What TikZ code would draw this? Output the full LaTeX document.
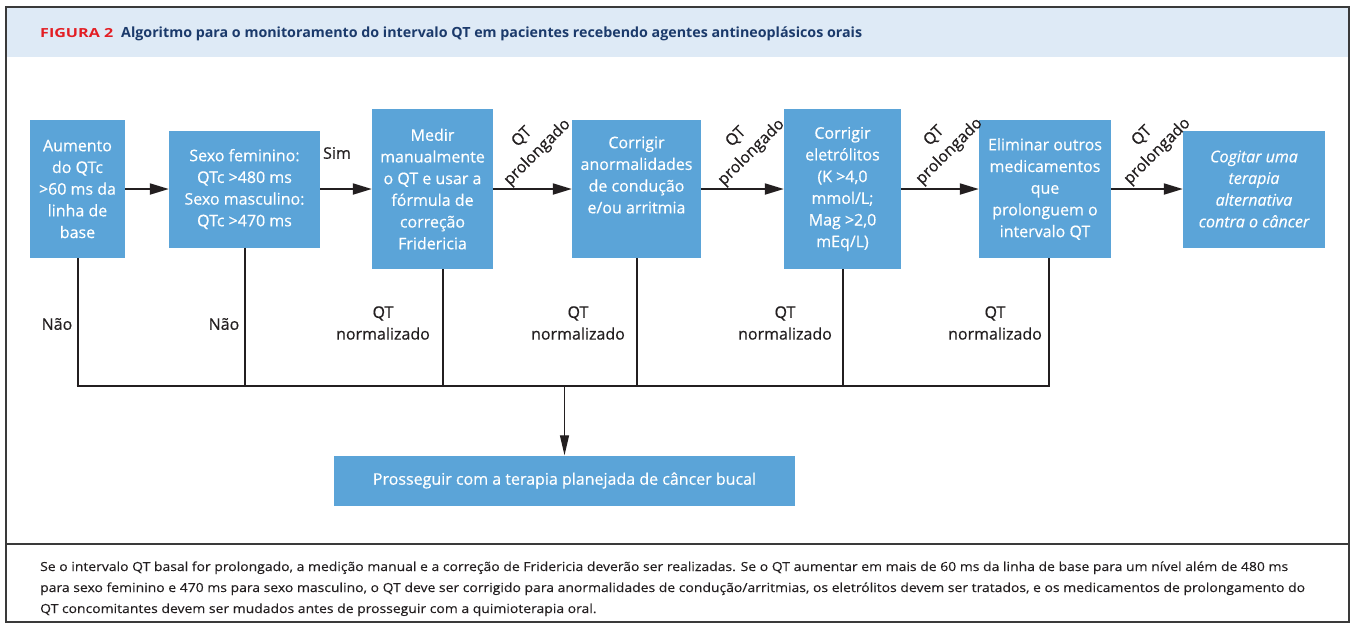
\documentclass[tikz,border=0pt]{standalone}
\usepackage{fontspec}
\setmainfont{Open Sans}
\newfontfamily\medfont{Open Sans}[FakeBold=0.5]
\newfontfamily\footfont{Open Sans}[FakeBold=0.15]
\usetikzlibrary{arrows.meta,calc}
\definecolor{boxblue}{HTML}{5BA4D8}
\definecolor{headbg}{HTML}{DEEAF6}
\definecolor{figred}{HTML}{E31E24}
\definecolor{navy}{HTML}{1B3A6B}
\definecolor{linec}{HTML}{231F20}
\definecolor{framec}{HTML}{3A3A3A}
\newsavebox\footbox
\AtBeginDocument{%
\sbox\footbox{\footfont\fontsize{12.5}{15}\selectfont Se o intervalo QT basal for prolongado, a medição manual e a correção de Fridericia deverão ser realizadas. Se o QT aumentar em mais de 60 ms da linha de base para um nível além de 480 ms}%
\pgfmathsetmacro\fsc{1248/\the\wd\footbox}}
\begin{document}
\begin{tikzpicture}[x=1pt,y=-1pt]
\tikzset{
 blk/.style={fill=boxblue, text=white, font=\medfont\fontsize{16}{21.7}\selectfont, align=center, inner sep=0pt},
 lbl/.style={font=\medfont\fontsize{16}{21.7}\selectfont, align=center, text=linec, inner sep=0pt},
 flow/.style={line width=2pt, draw=linec, -{Triangle[length=19pt,width=11pt]}},
 drop/.style={line width=2pt, draw=linec},
 foot/.style={anchor=base west, inner sep=0pt, text=linec, font=\footfont\fontsize{12.5}{15}\selectfont},
}
\useasboundingbox (0,0) rectangle (1355,625);
% frame and header
\fill[white] (0,0) rectangle (1355,625);
\fill[headbg] (6,7) rectangle (1349,57);
\draw[framec, line width=1.5pt] (6,7) rectangle (1349,622);
\draw[framec, line width=1.5pt] (6,544) -- (1349,544);
\node[anchor=base west, inner sep=0pt, text=figred, font=\bfseries\fontsize{12.5}{14}\selectfont] (fig) at (40,37.5) {\resizebox{73pt}{\height}{FIGURA 2}};
\node[anchor=base west, inner sep=0pt, text=navy, font=\bfseries\fontsize{14}{16}\selectfont] (title) at (121,37.5) {\resizebox{741pt}{\height}{Algoritmo para o monitoramento do intervalo QT em pacientes recebendo agentes antineoplásicos orais}};
% boxes
\node[blk, minimum width=95pt, minimum height=138pt] (b1) at (77.5,189) {Aumento\\do QTc\\>60 ms da\\linha de\\base};
\node[blk, minimum width=151pt, minimum height=117pt] (b2) at (244.5,189) {Sexo feminino:\\QTc >480 ms\\Sexo masculino:\\QTc >470 ms};
\node[blk, minimum width=121pt, minimum height=160pt] (b3) at (432.5,189) {Medir\\manualmente\\o QT e usar a\\fórmula de\\correção\\Fridericia};
\node[blk, minimum width=129pt, minimum height=138pt] (b4) at (636.5,189) {Corrigir\\anormalidades\\de condução\\e/ou arritmia\\\strut};
\node[blk, minimum width=117pt, minimum height=160pt] (b5) at (842.5,189) {Corrigir\\eletrólitos\\(K >4,0\\mmol/L;\\Mag >2,0\\mEq/L)};
\node[blk, minimum width=132pt, minimum height=138pt] (b6) at (1045,189) {Eliminar outros\\medicamentos\\que\\prolonguem o\\intervalo QT};
\node[blk, minimum width=142pt, minimum height=117pt, font=\medfont\fontsize{16}{21.7}\selectfont\itshape] (b7) at (1254,189) {Cogitar uma\\terapia\\alternativa\\contra o câncer};
\node[blk, minimum width=461pt, minimum height=50pt] (b8) at (564.5,480.5) {Prosseguir com a terapia planejada de câncer bucal};
% horizontal arrows
\draw[flow] (b1.east) -- (b1.east -| b2.west);
\draw[flow] (b2.east) -- (b2.east -| b3.west);
\draw[flow] (b3.east) -- (b3.east -| b4.west);
\draw[flow] (b4.east) -- (b4.east -| b5.west);
\draw[flow] (b5.east) -- (b5.east -| b6.west);
\draw[flow] (b6.east) -- (b6.east -| b7.west);
% labels
\node[lbl] (sim) at (337,153) {Sim};
\node[lbl, rotate=45] (p1) at (530,145) {QT\\prolongado};
\node[lbl, rotate=45] (p2) at (744,145) {QT\\prolongado};
\node[lbl, rotate=45] (p3) at (942,144) {QT\\prolongado};
\node[lbl, rotate=45] (p4) at (1150,144) {QT\\prolongado};
% drops and bus
\coordinate (bus) at (0,386);
\coordinate (d3) at ([xshift=10pt]b3.south);
\coordinate (d6) at ([xshift=4pt]b6.south);
\draw[drop] (b1.south) -- (b1.south |- bus);
\draw[drop] (b2.south) -- (b2.south |- bus);
\draw[drop] (d3) -- (d3 |- bus);
\draw[drop] (b4.south) -- (b4.south |- bus);
\draw[drop] (b5.south) -- (b5.south |- bus);
\draw[drop] (d6) -- (d6 |- bus);
\draw[line width=2.6pt, draw=linec] ([xshift=-1pt]b1.south |- bus) -- ([xshift=1pt]d6 |- bus);
\draw[line width=1.3pt, draw=linec, -{Triangle[length=20pt,width=9pt]}] (b8.north |- bus) -- (b8.north);
\node[lbl] (nao1) at (57,324) {Não};
\node[lbl] (nao2) at (224,324) {Não};
\node[lbl] (n1) at (383,323) {QT\\normalizado};
\node[lbl] (n2) at (578,323) {QT\\normalizado};
\node[lbl] (n3) at (785,323) {QT\\normalizado};
\node[lbl] (n4) at (995,323) {QT\\normalizado};
% footer
\node[foot] (f1) at (40,571) {\scalebox{\fsc}[1]{Se o intervalo QT basal for prolongado, a medição manual e a correção de Fridericia deverão ser realizadas. Se o QT aumentar em mais de 60 ms da linha de base para um nível além de 480 ms}};
\node[foot] (f2) at (40,592) {\scalebox{\fsc}[1]{para sexo feminino e 470 ms para sexo masculino, o QT deve ser corrigido para anormalidades de condução/arritmias, os eletrólitos devem ser tratados, e os medicamentos de prolongamento do}};
\node[foot] (f3) at (40,613) {\scalebox{\fsc}[1]{QT concomitantes devem ser mudados antes de prosseguir com a quimioterapia oral.}};
\end{tikzpicture}
\end{document}
